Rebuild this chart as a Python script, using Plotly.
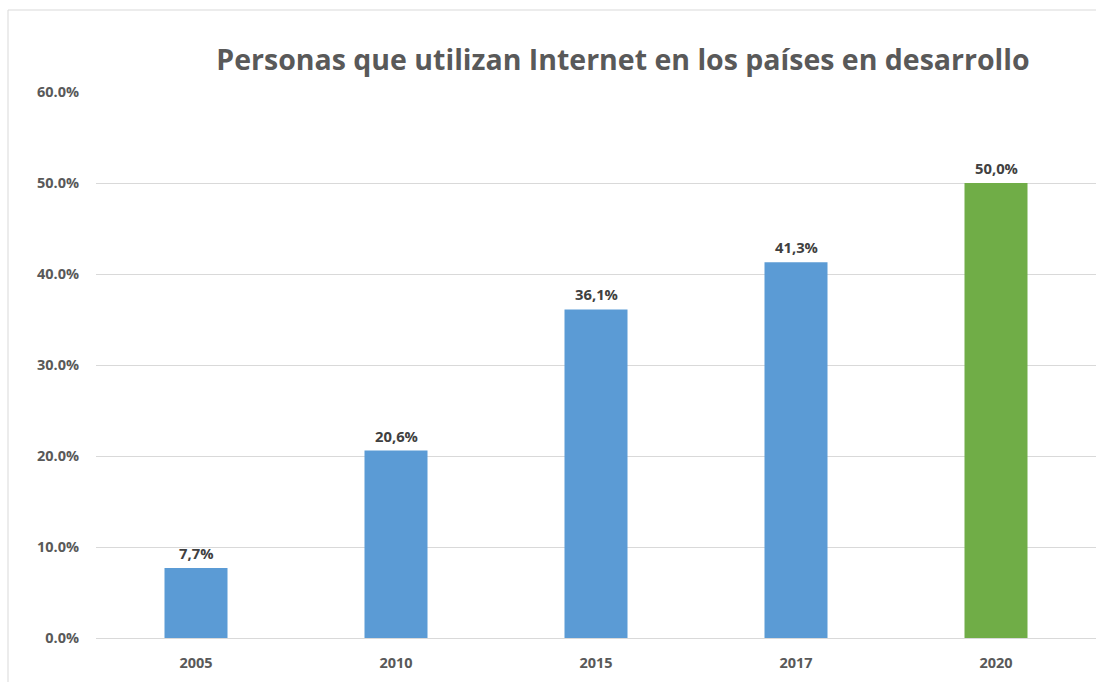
import plotly.graph_objects as go

years = ["2005", "2010", "2015", "2017", "2020"]
values = [7.7, 20.6, 36.1, 41.3, 50.0]
colors = ["#5B9BD5", "#5B9BD5", "#5B9BD5", "#5B9BD5", "#70AD47"]
labels = [f"{v:.1f}".replace(".", ",") + "%" for v in values]
tick_vals = [0, 0.1, 0.2, 0.3, 0.4, 0.5, 0.6]

y = [v / 100 for v in values]

fig = go.Figure()
fig.add_trace(go.Bar(x=years, y=y, marker=dict(color=colors, line=dict(width=0)),
                     hoverinfo="skip"))

for i, (val, lab) in enumerate(zip(y, labels)):
    fig.add_annotation(x=i, y=val, text=lab, showarrow=False,
                       yanchor="bottom", yshift=3,
                       font=dict(family="Open Sans", size=14.8, color="#404040", weight="bold"))

font_family = "Open Sans"
fig.update_layout(
    width=1096, height=682,
    margin=dict(l=96, r=0, t=92, b=44, autoexpand=False),
    paper_bgcolor="white", plot_bgcolor="white",
    bargap=0.685,
    showlegend=False,
    title=dict(text="Personas que utilizan Internet en los países en desarrollo",
               x=623 / 1096, xanchor="center", y=1 - 60 / 682, yanchor="middle",
               font=dict(family=font_family, size=28.5, color="#595959", weight="bold")),
    xaxis=dict(type="category", range=[-0.5, len(years) - 0.5],
               showgrid=False, showline=False, zeroline=False, ticks="",
               automargin=False, ticklabelstandoff=14,
               tickfont=dict(family=font_family, size=14.5, color="#595959", weight="bold")),
    yaxis=dict(range=[0, 0.6], tickvals=tick_vals, tickformat=".1%",
               automargin=False,
               showgrid=True, gridcolor="#D9D9D9", gridwidth=1,
               zeroline=True, zerolinecolor="#D9D9D9", zerolinewidth=1,
               showline=False, ticks="",
               ticklabelstandoff=16,
               tickfont=dict(family=font_family, size=14.5, color="#595959", weight="bold")),
    shapes=[
        dict(type="line", xref="paper", yref="paper",
             x0=(8 - 96) / 1000, x1=1.0, y0=(638 - 10) / 546, y1=(638 - 10) / 546,
             line=dict(color="#D9D9D9", width=1)),
        dict(type="line", xref="paper", yref="paper",
             x0=(8 - 96) / 1000, x1=(8 - 96) / 1000, y0=(638 - 10) / 546, y1=(638 - 690) / 546,
             line=dict(color="#D9D9D9", width=1)),
    ],
)

fig.write_html("out.html", config={"displayModeBar": False},
               post_script="document.body.style.margin='0';document.body.style.overflow='hidden';document.documentElement.style.overflow='hidden';")
